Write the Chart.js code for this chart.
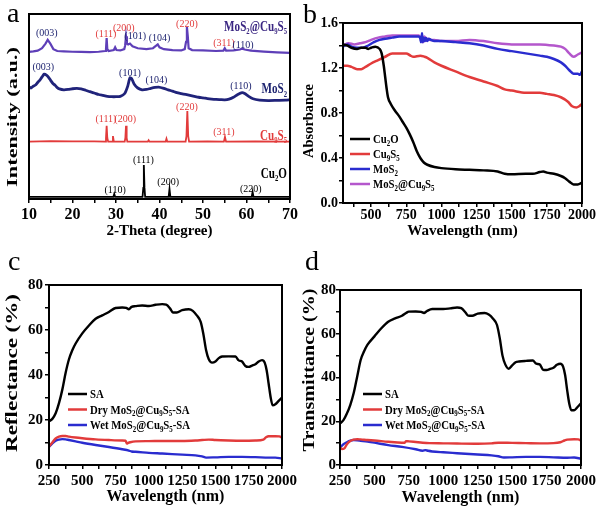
<!DOCTYPE html>
<html><head><meta charset="utf-8">
<script src="https://cdn.jsdelivr.net/npm/chart.js@4.4.0/dist/chart.umd.min.js"></script>
<style>
html,body{margin:0;padding:0;background:#fff;}
#wrap{position:relative;width:600px;height:507px;overflow:hidden;background:#fff;}
.p{position:absolute;}
canvas{display:block;}
</style></head><body>
<div id="wrap">
<div class="p" style="left:0;top:0;"><canvas id="ca" width="300" height="250"></canvas></div>
<div class="p" style="left:300px;top:0;"><canvas id="cb" width="300" height="250"></canvas></div>
<div class="p" style="left:0;top:250px;"><canvas id="cc" width="300" height="257"></canvas></div>
<div class="p" style="left:300px;top:250px;"><canvas id="cd" width="300" height="257"></canvas></div>
</div>
<script>
// ---------------- DATA ----------------
// (a) XRD patterns, intensity in arbitrary units (stacked offsets)
const xrdCu2O = [[10,1.2],[20,1.2],[29.4,1.2],[29.6,2.7],[29.8,1.2],[36.1,1.2],[36.28,6],[36.4,18.4],[36.55,6],[36.7,1.2],[42.1,1.2],[42.3,5.4],[42.5,1.2],[61.2,1.2],[61.4,3.8],[61.6,1.2],[70,1.2]];
const xrdCu9S5 = [[10,31],[15,31.3],[20,31.2],[25,31.1],[27.5,31],[27.7,33],[27.85,39.6],[28.0,33],[28.2,31],[29.1,31],[29.3,34],[29.5,31],[32.0,31],[32.15,33],[32.3,39.6],[32.45,33],[32.6,31],[37.3,31],[37.5,31.8],[37.7,31],[41.4,31],[41.6,32.6],[41.8,31],[46.0,31],[46.2,34],[46.4,47.6],[46.6,34],[46.8,31],[51,31.2],[54.8,31],[55.05,33.5],[55.3,31],[62,31.2],[70,31]];
const xrdMoS2 = [[10,60.5],[10.5,60],[11,61],[11.5,61.6],[12,63],[12.5,64.2],[13,66],[13.5,67.5],[14,67],[14.5,65.8],[15,64],[15.5,62.4],[16,61.5],[16.5,60.2],[17,59.5],[18,59],[19,59.2],[20,59.6],[21,59.8],[22,59.5],[23,58.8],[24,58],[25,57.3],[26,56.5],[27,56],[28,55.5],[29,55.3],[30,55.3],[31,55.5],[32,57],[32.7,61],[33.2,65.5],[33.6,65],[34.2,62],[35,60],[36,59],[37,59.2],[38,59.8],[39,60.3],[39.8,60.5],[41,59.8],[42,59],[43,58.3],[44,57.5],[45,57],[46,56.5],[47,56],[48,55.5],[49,55],[50,54.7],[51,54.3],[52,54],[53,53.8],[54,53.7],[55,53.6],[56,54],[57,55],[58,56.5],[59,57.5],[59.6,57],[60.5,55.5],[61.5,54.2],[63,53.5],[65,53.2],[67,53.3],[69,53.4],[70,53.6]];
const xrdComposite = [[10,79.5],[11,79.8],[12,80.2],[13,81.5],[13.8,84],[14.3,86],[14.9,84],[15.6,81],[16.5,80],[18,79.8],[20,79.6],[22,79.5],[24,79.4],[26,79.6],[27.5,80],[27.7,81],[27.85,87],[28.0,81],[28.3,80],[29.5,80.5],[29.8,82],[30.1,80.5],[31,80.3],[31.9,81],[32.1,83],[32.3,88],[32.5,84],[32.8,83.5],[33.2,84],[33.8,82.5],[35,81.5],[37,81],[38.5,81.5],[39.3,83],[39.6,83.6],[40,82],[41,81],[43,80.5],[45,80.3],[45.8,81],[46.1,85],[46.3,93],[46.5,88],[46.7,81.5],[47.5,80.5],[50,80.3],[53,80],[54.7,80.2],[55.0,81.5],[55.3,80.2],[57,80.3],[58.5,80.8],[59,81.3],[59.6,80.8],[61,80.2],[64,79.7],[67,79.3],[70,79]];
const xrdTicks = [10,15,20,25,30,35,40,45,50,55,60,65,70];
const xrdTickLabels = [10,20,30,40,50,60,70];
// peak labels: [2theta, intensity, text, colorKey]
const xrdPeakLabels = [
  [14.1,89.7,'(003)','n'],[27.7,89.5,'(111)','r'],[31.8,92.8,'(200)','r'],[34.4,88.3,'(101)','n'],[40,87.2,'(104)','n'],[46.3,95,'(220)','r'],[54.8,84.5,'(311)','r'],[59.2,83.6,'(110)','n'],
  [13.3,71.5,'(003)','n'],[33.2,68.3,'(101)','n'],[39.3,64.3,'(104)','n'],[58.7,61.2,'(110)','n'],
  [27.7,43.6,'(111)','r'],[32.1,43.6,'(200)','r'],[46.3,49.9,'(220)','r'],[54.8,36.4,'(311)','r'],
  [29.8,5.2,'(110)','k'],[36.3,21.5,'(111)','k'],[42,9.4,'(200)','k'],[61,5.8,'(220)','k']
];
// series name labels: [intensity, text, colorKey]
const xrdSeriesNames = [[93.5,'MoS_2@Cu_9S_5','p'],[59.8,'MoS_2','n'],[34.6,'Cu_9S_5','r'],[14.2,'Cu_2O','k']];

// (b) Absorbance vs wavelength
const absCu2O = [[300,1.41],[330,1.40],[360,1.38],[400,1.37],[430,1.38],[460,1.38],[480,1.37],[500,1.38],[530,1.39],[560,1.37],[575,1.33],[590,1.22],[600,1.12],[610,1.02],[620,0.94],[640,0.88],[670,0.82],[700,0.77],[725,0.72],[750,0.67],[775,0.61],[800,0.54],[825,0.46],[850,0.40],[875,0.36],[900,0.34],[950,0.32],[1000,0.31],[1100,0.30],[1200,0.295],[1300,0.29],[1400,0.28],[1450,0.26],[1500,0.255],[1600,0.26],[1650,0.26],[1700,0.275],[1725,0.28],[1750,0.27],[1800,0.26],[1850,0.24],[1880,0.22],[1910,0.19],[1940,0.165],[1970,0.165],[2000,0.18]];
const absCu9S5 = [[300,1.22],[330,1.22],[360,1.21],[400,1.19],[430,1.19],[460,1.21],[500,1.24],[550,1.27],[600,1.30],[650,1.33],[700,1.33],[750,1.33],[780,1.31],[800,1.30],[850,1.31],[880,1.30],[900,1.29],[950,1.25],[1000,1.22],[1100,1.17],[1200,1.12],[1300,1.08],[1400,1.04],[1450,1.01],[1500,1.00],[1600,0.98],[1700,0.98],[1750,0.97],[1800,0.96],[1850,0.94],[1900,0.90],[1930,0.86],[1960,0.85],[1980,0.86],[2000,0.88]];
const absMoS2 = [[300,1.39],[330,1.41],[360,1.39],[400,1.38],[440,1.38],[480,1.40],[520,1.43],[560,1.45],[600,1.46],[650,1.47],[700,1.48],[750,1.48],[800,1.48],[840,1.48],[850,1.46],[855,1.43],[862,1.51],[868,1.43],[875,1.47],[882,1.44],[890,1.47],[900,1.44],[910,1.46],[925,1.45],[950,1.44],[1000,1.44],[1100,1.43],[1200,1.42],[1300,1.40],[1400,1.37],[1500,1.35],[1600,1.33],[1700,1.31],[1750,1.30],[1800,1.28],[1850,1.25],[1880,1.22],[1910,1.18],[1940,1.15],[1970,1.15],[1985,1.14],[2000,1.17]];
const absComposite = [[300,1.40],[340,1.42],[380,1.41],[420,1.42],[460,1.43],[500,1.45],[550,1.47],[600,1.48],[650,1.49],[700,1.49],[750,1.49],[800,1.49],[840,1.49],[855,1.46],[870,1.43],[880,1.48],[890,1.44],[900,1.46],[920,1.45],[950,1.45],[1000,1.44],[1100,1.44],[1200,1.45],[1300,1.44],[1400,1.42],[1500,1.41],[1600,1.41],[1700,1.41],[1800,1.40],[1850,1.39],[1880,1.37],[1910,1.33],[1940,1.30],[1970,1.32],[2000,1.34]];
const absXTicks = [375,500,625,750,875,1000,1125,1250,1375,1500,1625,1750,1875,2000];
const absXTickLabels = [500,750,1000,1250,1500,1750,2000];
const absYTicks = [0,0.2,0.4,0.6,0.8,1.0,1.2,1.4,1.6];
const absYTickLabels = [0,0.4,0.8,1.2,1.6];

// (c) Reflectance
const reflSA = [[250,19.4],[275,20.5],[300,23],[325,27.5],[350,33.5],[375,41],[400,47],[425,51],[450,54],[500,58.5],[550,62],[600,65],[650,66.5],[700,68],[750,69.8],[800,70],[830,69.8],[850,69.2],[870,70.3],[900,70.6],[950,70.9],[1000,70.7],[1050,71.2],[1100,71.5],[1130,71.3],[1160,69.5],[1180,67.8],[1210,67.8],[1250,68.8],[1300,69.2],[1330,68.5],[1360,66.5],[1390,63.5],[1410,58],[1430,51],[1450,47],[1475,45.5],[1500,46],[1525,47.5],[1550,48.2],[1600,48.3],[1650,48.2],[1675,46.5],[1700,46],[1725,44],[1750,43.6],[1775,44.2],[1800,44.8],[1825,46],[1850,46.6],[1870,45.5],[1885,42],[1900,36],[1915,30],[1930,26.5],[1950,27],[1975,28.5],[2000,30]];
const reflDry = [[250,8.2],[275,10],[300,11.8],[325,12.6],[350,12.9],[375,12.9],[400,12.6],[450,12.2],[500,11.9],[600,11.4],[700,11.1],[800,10.9],[825,10.8],[835,9.5],[845,9.8],[860,10.1],[900,10.5],[1000,10.6],[1100,10.7],[1250,10.7],[1350,10.9],[1400,11.1],[1450,11.3],[1500,11.1],[1600,10.9],[1700,10.8],[1800,10.9],[1860,11.3],[1880,12.3],[1900,12.8],[1950,12.8],[1980,12.7],[2000,12.2]];
const reflWet = [[250,8],[275,9.6],[300,10.8],[325,11.3],[350,11.5],[375,11.4],[400,11.1],[450,10.5],[500,9.9],[600,8.9],[700,8],[800,7],[850,6.4],[870,6.0],[900,5.9],[1000,5.4],[1100,5.1],[1250,4.6],[1350,4.3],[1400,3.8],[1430,3.3],[1500,3.4],[1600,3.6],[1700,3.6],[1800,3.5],[1900,3.3],[1950,3.3],[2000,2.9]];

// (d) Transmittance
const transSA = [[250,19],[275,20.5],[300,23.5],[325,27.5],[350,33],[375,40.5],[400,48],[425,52],[450,55],[500,58.8],[550,62.5],[600,65.5],[650,67],[700,68.2],[730,69.5],[750,70.1],[800,70.2],[840,70],[860,69.5],[880,70.3],[920,71.3],[1000,71.3],[1050,71.6],[1100,72],[1130,71.7],[1160,69.8],[1180,68.3],[1210,68.2],[1250,69.2],[1300,69.5],[1330,68.8],[1360,67],[1390,64],[1410,58],[1430,50],[1450,46],[1475,44],[1500,45.5],[1525,47],[1550,47.3],[1600,47.6],[1650,47.8],[1675,46.3],[1700,46],[1725,43.5],[1750,43.4],[1775,43.9],[1800,44.5],[1825,45.8],[1850,46.3],[1870,45],[1885,41],[1900,34],[1915,28],[1930,25],[1950,25],[1975,26.5],[2000,28.2]];
const transDry = [[250,8],[265,7.3],[280,7.5],[300,9.5],[325,11],[350,11.6],[375,11.8],[400,11.7],[450,11.4],[500,11.2],[600,10.6],[700,10.2],[720,10.2],[730,10.9],[750,10.8],[800,10.5],[850,10.2],[900,10],[1000,9.9],[1100,9.8],[1250,9.7],[1350,9.9],[1400,10.2],[1500,10.1],[1600,10],[1700,9.9],[1800,10],[1850,10.4],[1880,11.2],[1900,11.6],[1950,11.8],[1980,11.7],[2000,11.2]];
const transWet = [[250,8],[275,9.5],[300,10.4],[325,11.1],[350,11.4],[375,11.3],[400,11.1],[450,10.7],[500,10.2],[600,9.1],[700,8.3],[800,7.2],[850,6.5],[870,6.8],[890,6.5],[920,6.2],[1000,5.8],[1100,5.4],[1250,4.8],[1350,4.4],[1400,4.0],[1440,3.4],[1500,3.5],[1600,3.7],[1700,3.7],[1800,3.5],[1900,3.3],[1950,3.4],[2000,2.9]];
const specXTicks = [250,375,500,625,750,875,1000,1125,1250,1375,1500,1625,1750,1875,2000];
const specXTickLabels = [250,500,750,1000,1250,1500,1750,2000];
const pctYTicks = [0,10,20,30,40,50,60,70,80];
const pctYTickLabels = [0,20,40,60,80];
const saLabels = ['SA','Dry MoS_2@Cu_9S_5-SA','Wet MoS_2@Cu_9S_5-SA'];

// ---------------- HELPERS ----------------
const FAM = "'Liberation Serif','Times New Roman',serif";
const COL = {k:'#000000', r:'#e23b3b', n:'#1e2470', p:'#3a2682', blue:'#2a2ccf', purple:'#b457cc', xp:'#5e3fb8', xn:'#20237a'};

function richText(ctx, text, x, y, size, weight, align, color, sx) {
  sx = sx || 1;
  const segs = [];
  for (let i = 0; i < text.length; i++) {
    if (text[i] === '_' && i + 1 < text.length) { segs.push({t: text[i+1], sub: true}); i++; }
    else if (segs.length && !segs[segs.length-1].sub) segs[segs.length-1].t += text[i];
    else segs.push({t: text[i], sub: false});
  }
  const subSize = Math.round(size * 0.62);
  const fN = `${weight} ${size}px ${FAM}`, fS = `${weight} ${subSize}px ${FAM}`;
  let w = 0;
  for (const s of segs) { ctx.font = s.sub ? fS : fN; s.w = ctx.measureText(s.t).width * sx; w += s.w; }
  let cx = align === 'right' ? x - w : align === 'center' ? x - w / 2 : x;
  ctx.save();
  ctx.fillStyle = color; ctx.textBaseline = 'alphabetic'; ctx.textAlign = 'left';
  const base = y + size * 0.33;
  for (const s of segs) {
    ctx.font = s.sub ? fS : fN;
    ctx.save(); ctx.translate(cx, s.sub ? base + size * 0.22 : base); ctx.scale(sx, 1);
    ctx.fillText(s.t, 0, 0); ctx.restore();
    cx += s.w;
  }
  ctx.restore();
}

function vTitle(ctx, text, cx, cy, size, targetLen) {
  ctx.save();
  ctx.font = `bold ${size}px ${FAM}`;
  const w = ctx.measureText(text).width;
  const sx = targetLen ? targetLen / w : 1;
  ctx.translate(cx, cy); ctx.rotate(-Math.PI / 2); ctx.scale(sx, 1);
  ctx.fillStyle = '#000'; ctx.textAlign = 'center'; ctx.textBaseline = 'middle';
  ctx.fillText(text, 0, 0);
  ctx.restore();
}

function xy(arr) { return arr.map(p => ({x: p[0], y: p[1]})); }

function axisCfg(o) {
  return {
    type: 'linear', min: o.min, max: o.max, display: true,
    afterBuildTicks: s => { s.ticks = o.ticks.map(v => ({value: v})); },
    afterFit: s => { if (o.horizontal) s.height = o.size; else s.width = o.size; },
    ticks: {
      display: o.labels !== null,
      autoSkip: false, maxRotation: 0, minRotation: 0,
      padding: o.pad, color: '#000',
      font: {family: FAM, size: o.fontSize, weight: 'bold'},
      callback: v => (o.labels && o.labels.some(l => Math.abs(l - v) < 1e-9)) ? o.fmt(v) : ''
    },
    grid: {display: o.tickMarks !== false, drawOnChartArea: false, drawTicks: true, tickLength: 4, color: '#000', lineWidth: 1.5},
    border: {display: false},
    title: {display: !!o.title, text: o.title, color: '#000', font: {family: FAM, size: o.titleSize, weight: 'bold'},
            padding: {top: 0, bottom: o.titlePad}}
  };
}

function framePlugin(extra) {
  return {
    id: 'frame',
    afterDatasetsDraw(chart) {
      const {ctx, chartArea: a} = chart;
      ctx.save(); ctx.strokeStyle = '#000'; ctx.lineWidth = 2;
      ctx.strokeRect(a.left, a.top, a.right - a.left, a.bottom - a.top);
      ctx.restore();
    },
    afterDraw(chart) { extra(chart); }
  };
}

function drawLegend(chart, L) {
  const ctx = chart.ctx;
  chart.data.datasets.forEach((ds, i) => {
    const y = L.y + i * L.dy;
    ctx.save(); ctx.strokeStyle = ds.borderColor; ctx.lineWidth = 2.5;
    ctx.beginPath(); ctx.moveTo(L.x, y); ctx.lineTo(L.x + L.len, y); ctx.stroke(); ctx.restore();
    richText(ctx, ds.label, L.x + L.len + 3, y, L.size, 'bold', 'left', '#000', L.sx);
  });
}

function panelLetter(ctx, t, x, y) {
  ctx.save(); ctx.fillStyle = '#000'; ctx.font = `28px ${FAM}`; ctx.textBaseline = 'alphabetic';
  ctx.fillText(t, x, y); ctx.restore();
}

const common = {responsive: false, animation: false, events: [],
  plugins: {legend: {display: false}, tooltip: {enabled: false}},
  elements: {point: {radius: 0}}};

// ---------------- PANEL A ----------------
new Chart(document.getElementById('ca'), {
  type: 'line',
  data: {datasets: [
    {label: 'Cu_2O', data: xy(xrdCu2O), borderColor: COL.k, borderWidth: 1.8, tension: 0},
    {label: 'Cu_9S_5', data: xy(xrdCu9S5), borderColor: COL.r, borderWidth: 1.8, tension: 0},
    {label: 'MoS_2', data: xy(xrdMoS2), borderColor: COL.xn, borderWidth: 2.8, tension: 0.2},
    {label: 'MoS_2@Cu_9S_5', data: xy(xrdComposite), borderColor: COL.xp, borderWidth: 2.2, tension: 0}
  ]},
  options: Object.assign({}, common, {
    layout: {padding: {left: 0, top: 14, right: 10, bottom: 0}},
    scales: {
      x: axisCfg({horizontal: true, min: 10, max: 70, ticks: xrdTicks, labels: xrdTickLabels, fmt: v => String(v), size: 51, pad: 2, fontSize: 16, title: '2-Theta (degree)', titleSize: 15, titlePad: 10}),
      y: axisCfg({horizontal: false, min: 0, max: 100, ticks: [], labels: null, size: 29, pad: 0, fontSize: 14, title: '', tickMarks: false})
    }
  }),
  plugins: [framePlugin(chart => {
    const ctx = chart.ctx, xs = chart.scales.x, ys = chart.scales.y;
    xrdPeakLabels.forEach(p => richText(ctx, p[2], xs.getPixelForValue(p[0]), ys.getPixelForValue(p[1]), 10, 'normal', 'center', COL[p[3]]));
    xrdSeriesNames.forEach(s => richText(ctx, s[1], chart.chartArea.right - 3, ys.getPixelForValue(s[0]), 15, 'bold', 'right', COL[s[2]], 0.74));
    vTitle(ctx, 'Intensity (a.u.)', 13, 117, 15, 140);
    panelLetter(ctx, 'a', 7, 22);
  })]
});

// ---------------- PANEL B ----------------
new Chart(document.getElementById('cb'), {
  type: 'line',
  data: {datasets: [
    {label: 'Cu_2O', data: xy(absCu2O), borderColor: COL.k, borderWidth: 2.5, cubicInterpolationMode: 'monotone'},
    {label: 'Cu_9S_5', data: xy(absCu9S5), borderColor: COL.r, borderWidth: 2.5, cubicInterpolationMode: 'monotone'},
    {label: 'MoS_2', data: xy(absMoS2), borderColor: COL.blue, borderWidth: 2.5, cubicInterpolationMode: 'monotone'},
    {label: 'MoS_2@Cu_9S_5', data: xy(absComposite), borderColor: COL.purple, borderWidth: 2.5, cubicInterpolationMode: 'monotone'}
  ]},
  options: Object.assign({}, common, {
    layout: {padding: {left: 0, top: 23, right: 18, bottom: 0}},
    scales: {
      x: axisCfg({horizontal: true, min: 300, max: 2000, ticks: absXTicks, labels: absXTickLabels, fmt: v => String(v), size: 47, pad: 0, fontSize: 14, title: 'Wavelength (nm)', titleSize: 15, titlePad: 10}),
      y: axisCfg({horizontal: false, min: 0, max: 1.6, ticks: absYTicks, labels: absYTickLabels, fmt: v => v.toFixed(1), size: 43, pad: 1, fontSize: 14, title: ''})
    }
  }),
  plugins: [framePlugin(chart => {
    drawLegend(chart, {x: 50, y: 139, dy: 15, len: 20, size: 12.5, sx: 0.86});
    vTitle(chart.ctx, 'Absorbance', 9, 121, 15, 74);
    panelLetter(chart.ctx, 'b', 3, 23);
  })]
});

// ---------------- PANELS C, D ----------------
function specChart(id, sa, dry, wet, title, L, area, letter, lpos, tpos, tlen, tpadX, ypad) {
  new Chart(document.getElementById(id), {
    type: 'line',
    data: {datasets: [
      {label: saLabels[0], data: xy(sa), borderColor: COL.k, borderWidth: 2.4, cubicInterpolationMode: 'monotone'},
      {label: saLabels[1], data: xy(dry), borderColor: COL.r, borderWidth: 2.4, cubicInterpolationMode: 'monotone'},
      {label: saLabels[2], data: xy(wet), borderColor: COL.blue, borderWidth: 2.4, cubicInterpolationMode: 'monotone'}
    ]},
    options: Object.assign({}, common, {
      layout: {padding: {left: 0, top: area.top, right: 300 - area.right, bottom: 0}},
      scales: {
        x: axisCfg({horizontal: true, min: 250, max: 2000, ticks: specXTicks, labels: specXTickLabels, fmt: v => String(v), size: 257 - area.bottom, pad: 3, fontSize: 15, title: 'Wavelength (nm)', titleSize: 16, titlePad: tpadX}),
        y: axisCfg({horizontal: false, min: 0, max: 80, ticks: pctYTicks, labels: pctYTickLabels, fmt: v => String(v), size: area.left, pad: ypad, fontSize: 15, title: ''})
      }
    }),
    plugins: [framePlugin(chart => {
      drawLegend(chart, L);
      vTitle(chart.ctx, title, tpos[0], tpos[1], 16, tlen);
      panelLetter(chart.ctx, letter, lpos[0], lpos[1]);
    })]
  });
}
specChart('cc', reflSA, reflDry, reflWet, 'Reflectance (%)', {x: 68, y: 144, dy: 15.5, len: 19, size: 12.5, sx: 0.86}, {left: 49, top: 35, right: 282, bottom: 215}, 'c', [8, 20], [13, 123], 158, 1, 2);
specChart('cd', transSA, transDry, transWet, 'Transmittance (%)', {x: 63, y: 144, dy: 15.5, len: 19, size: 12.5, sx: 0.86}, {left: 40, top: 40, right: 281, bottom: 215}, 'd', [5, 20], [10, 120], 163, 0, 0);
</script>
</body></html>
